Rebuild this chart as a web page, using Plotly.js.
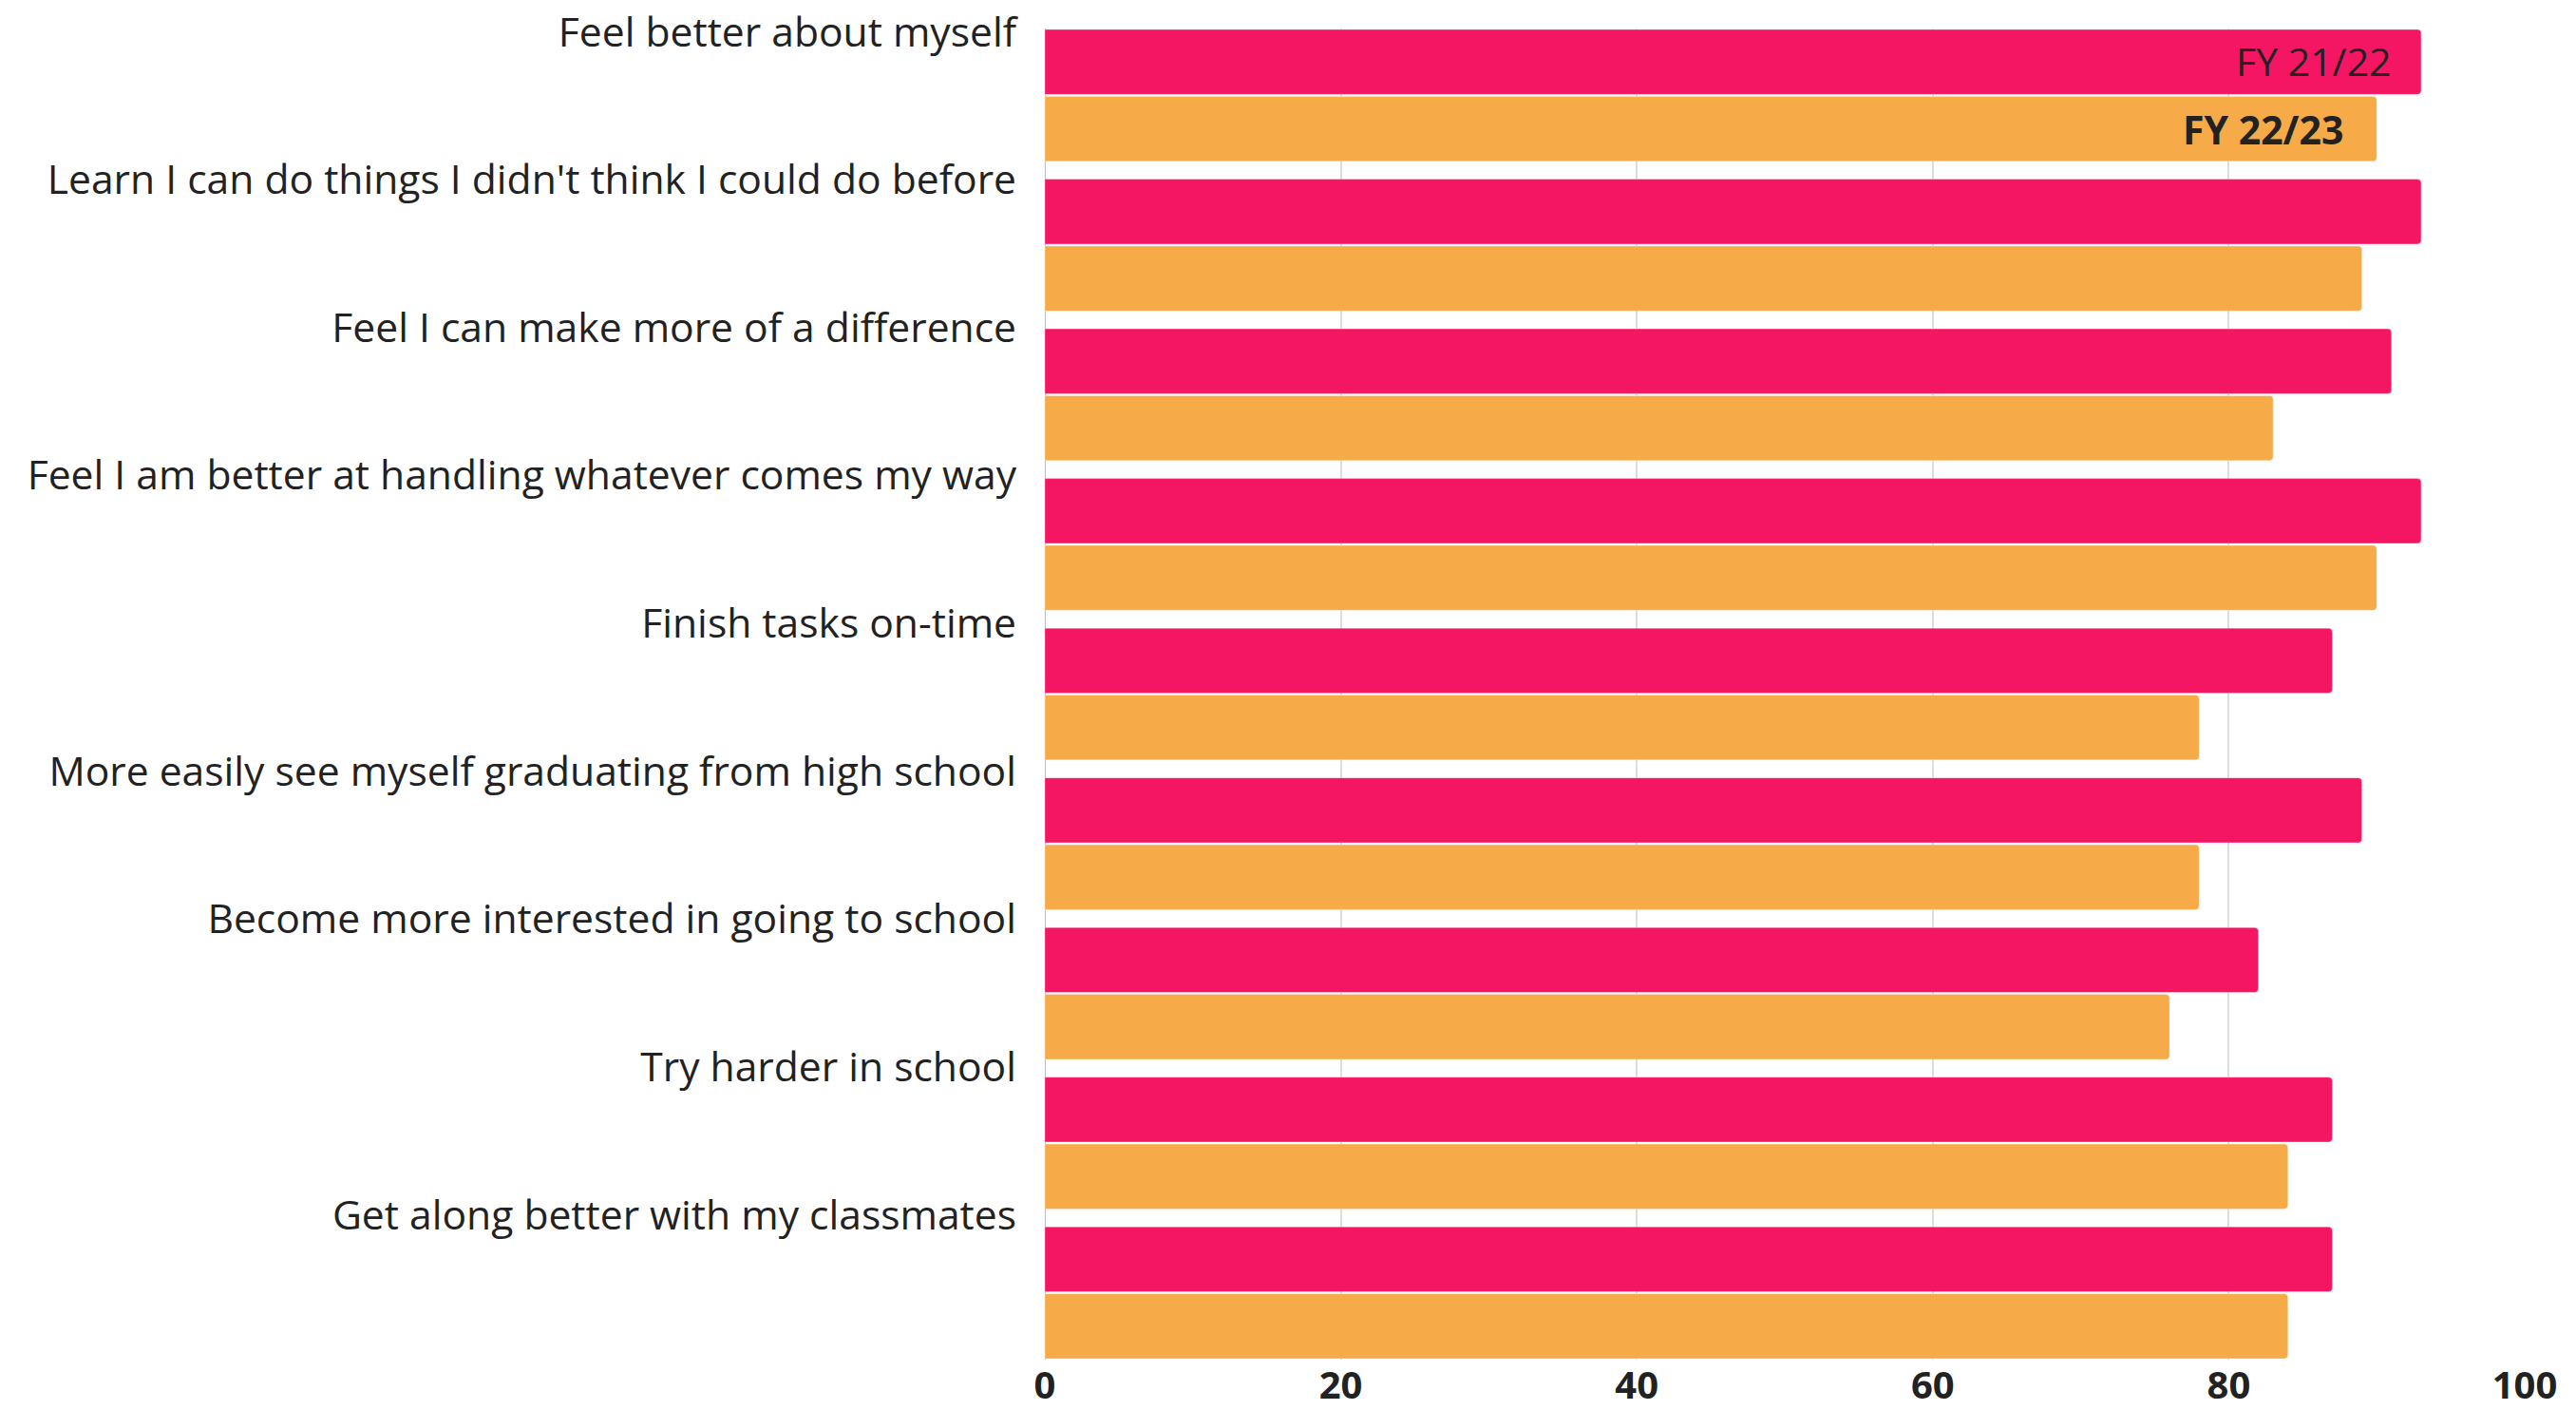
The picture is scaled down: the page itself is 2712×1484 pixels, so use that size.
<!DOCTYPE html>
<html>
<head>
<meta charset="utf-8">
<script src="https://cdn.plot.ly/plotly-3.0.1.min.js"></script>
<style>
  html, body { margin: 0; padding: 0; background: #ffffff; }
  #chart { width: 2712px; height: 1484px; }
</style>
</head>
<body>
<div id="chart"></div>
<script>
// ---- data ----
const categories = [
  "Feel better about myself",
  "Learn I can do things I didn't think I could do before",
  "Feel I can make more of a difference",
  "Feel I am better at handling whatever comes my way",
  "Finish tasks on-time",
  "More easily see myself graduating from high school",
  "Become more interested in going to school",
  "Try harder in school",
  "Get along better with my classmates"
];
const seriesNames = ["FY 21/22", "FY 22/23"];
const fy2122 = [93, 93, 91, 93, 87, 89, 82, 87, 87];
const fy2223 = [90, 89, 83, 90, 78, 78, 76, 84, 84];
const xTicks = [0, 20, 40, 60, 80, 100];

// ---- chart ----
const pos = categories.map((c, i) => i);
const labelPos = categories.map((c, i) => -0.424 + i * 0.988);

const PINK = "#F51663";
const ORANGE = "#F6AA48";

const traces = [
  {
    type: "bar", orientation: "h", name: seriesNames[0],
    x: fy2122, y: pos,
    marker: { color: PINK, line: { color: "rgba(255,255,255,0.35)", width: 1 } },
    hoverinfo: "x"
  },
  {
    type: "bar", orientation: "h", name: seriesNames[1],
    x: fy2223, y: pos,
    marker: { color: ORANGE, line: { color: "rgba(255,255,255,0.35)", width: 1 } },
    hoverinfo: "x"
  }
];

const layout = {
  width: 2712, height: 1484,
  margin: { l: 1100, r: 54, t: 30, b: 53, pad: 0 },
  paper_bgcolor: "#ffffff",
  plot_bgcolor: "#ffffff",
  font: { family: "Open Sans, sans-serif", color: "#222222" },
  showlegend: false,
  barmode: "group",
  bargap: 0.106,
  bargroupgap: 0.03,
  barcornerradius: 4,
  xaxis: {
    range: [0, 100],
    tickvals: xTicks,
    ticktext: xTicks.map(String),
    showgrid: true,
    gridcolor: "#dddddd",
    gridwidth: 2,
    zeroline: true,
    zerolinecolor: "#bbbbbb",
    zerolinewidth: 1,
    showline: false,
    ticks: "",
    tickfont: { family: "Open Sans, sans-serif", size: 40, color: "#222222", weight: "bold" },
    ticklabelstandoff: 0,
    fixedrange: true
  },
  yaxis: {
    type: "linear",
    range: [8.447, -0.447],
    tickvals: labelPos,
    ticktext: categories,
    showgrid: false,
    zeroline: false,
    showline: false,
    ticks: "",
    tickfont: { family: "Open Sans, sans-serif", size: 42.6, color: "#222222" },
    ticklabelstandoff: 29,
    fixedrange: true
  },
  annotations: [
    {
      x: fy2122[0], y: pos[0], xref: "x", yref: "y",
      text: seriesNames[0], showarrow: false,
      xanchor: "right", yanchor: "middle",
      xshift: -29, yshift: 36,
      font: { family: "Open Sans, sans-serif", size: 41, color: "#222222" }
    },
    {
      x: fy2223[0], y: pos[0], xref: "x", yref: "y",
      text: "<b>" + seriesNames[1] + "</b>", showarrow: false,
      xanchor: "right", yanchor: "middle",
      xshift: -33, yshift: -36,
      font: { family: "Open Sans, sans-serif", size: 41, color: "#222222" }
    }
  ]
};

Plotly.newPlot("chart", traces, layout, { displayModeBar: false, staticPlot: true });
</script>
</body>
</html>
